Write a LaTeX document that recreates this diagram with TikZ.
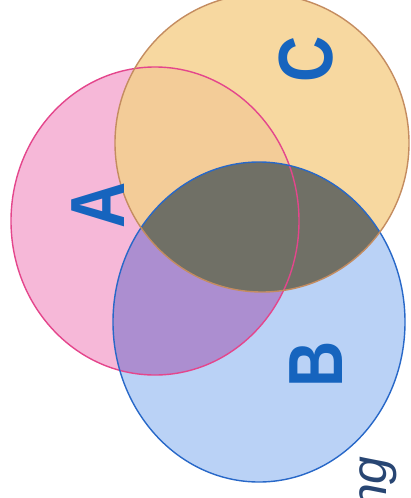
\documentclass[tikz,border=0pt]{standalone}
\usepackage{fontspec}
\setmainfont{Liberation Sans}
\usetikzlibrary{positioning}
\definecolor{cPink}{RGB}{246,184,216}
\definecolor{cPinkD}{RGB}{228,70,140}
\definecolor{cBlue}{RGB}{186,210,246}
\definecolor{cBlueD}{RGB}{40,104,200}
\definecolor{cYel}{RGB}{247,216,160}
\definecolor{cYelD}{RGB}{196,140,96}
\definecolor{cPurp}{RGB}{172,142,208}
\definecolor{cPeach}{RGB}{243,204,152}
\definecolor{cGrey}{RGB}{112,112,102}
\definecolor{cLabel}{RGB}{22,100,190}
\definecolor{cWord}{RGB}{40,70,115}
% the three sets
\newcommand{\setA}{(155,221) ellipse [x radius=144pt, y radius=154pt]}
\newcommand{\setB}{(259,322) ellipse [x radius=146pt, y radius=160pt]}
\newcommand{\setC}{(262,143) ellipse [x radius=147pt, y radius=149pt]}

\begin{document}
\begin{tikzpicture}[x=1pt,y=-1pt,
    ring/.style={line width=1.4pt},
    lbl/.style={font=\fontsize{64}{64}\selectfont\bfseries,text=cLabel,rotate=90,inner sep=0pt}
  ]
  \useasboundingbox (0,0) rectangle (410,498);
  \fill[cPink] \setA;
  \fill[cBlue] \setB;
  \fill[cYel] \setC;
  \begin{scope}
    \clip \setA;
    \fill[cPurp] \setB;
    \fill[cPeach] \setC;
  \end{scope}
  \begin{scope}
    \clip \setB;
    \fill[cGrey] \setC;
  \end{scope}
  \draw[ring,cPinkD] \setA;
  \draw[ring,cBlueD] \setB;
  \draw[ring,cYelD] \setC;
  \node[lbl] (labA) at (98,205) {\scalebox{1}[1.2]{A}};
  \node[lbl] (labB) at (316,364) {\scalebox{1}[1.2]{B}};
  \node[lbl] (labC) at (306,59) {\scalebox{1}[1.2]{C}};
  \node[font=\fontsize{50}{50}\selectfont\itshape,text=cWord,rotate=90,inner sep=0pt,anchor=base west] (word) at (386,512) {ng};
\end{tikzpicture}
\end{document}
